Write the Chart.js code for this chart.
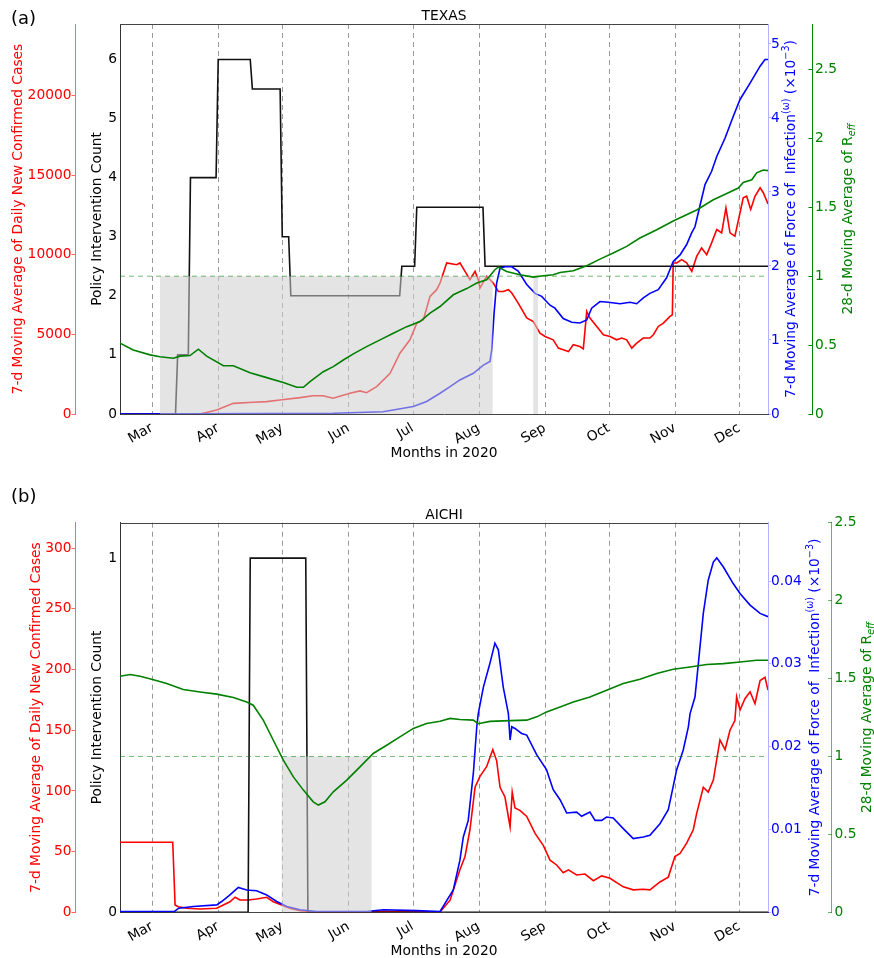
<!DOCTYPE html>
<html>
<head>
<meta charset="utf-8">
<script src="https://cdn.jsdelivr.net/npm/chart.js@4.4.1/dist/chart.umd.min.js"></script>
<style>
  body { margin: 0; background: #fff; }
  #wrap { position: relative; width: 874px; height: 958px; }
  canvas { position: absolute; left: 0; }
</style>
</head>
<body>
<div id="wrap">
  <canvas id="texas" width="874" height="470" style="top:0"></canvas>
  <canvas id="aichi" width="874" height="488" style="top:470px"></canvas>
</div>
<script>
// x values are days of 2020 (Jan 1 = 0)
const monthDays = [60, 91, 121, 152, 182, 213, 244, 274, 305, 335];
const monthLabels = ['Mar', 'Apr', 'May', 'Jun', 'Jul', 'Aug', 'Sep', 'Oct', 'Nov', 'Dec'];
const firstDay = 45, lastDay = 348.5;
const reffThreshold = 1;

// ---- TEXAS ----
const txCasesDay = [45, 82.5, 90.3, 98.1, 107.4, 113.7, 119.9, 129.3, 135.5, 140.1, 144.8, 152.7, 157.4, 160.5, 165.2, 171.5, 176.1, 180.8, 184.0, 187.1, 190.2, 193.3, 194.9, 198.0, 202.7, 204.2, 206.6, 208.9, 211.3, 212.8, 213.6, 216.7, 219.8, 222.2, 224.5, 226.9, 228.5, 231.5, 235.5, 238.6, 241.7, 244.1, 247.9, 250.3, 252.6, 255.0, 257.3, 260.4, 262.0, 263.6, 265.1, 268.3, 271.4, 274.5, 277.6, 280.0, 282.3, 284.7, 287.0, 290.1, 293.2, 294.8, 297.1, 299.5, 302.6, 303.7, 304.1, 305.7, 308.1, 310.4, 312.8, 315.1, 317.4, 319.8, 322.1, 324.5, 326.8, 328.8, 330.7, 333.0, 335.4, 336.9, 338.5, 340.4, 342.4, 344.8, 346.3, 348.5];
const txCasesVal = [0, 0, 250, 670, 735, 775, 880, 1030, 1150, 1150, 990, 1300, 1450, 1340, 1720, 2560, 3820, 4660, 5710, 5920, 7390, 7810, 8230, 9490, 9380, 9490, 8960, 8440, 8960, 8440, 7910, 8650, 8230, 7700, 7700, 7810, 7600, 6970, 6030, 5810, 5080, 4870, 4660, 4140, 4030, 3920, 4350, 4240, 4090, 6440, 6030, 5500, 4980, 4870, 4660, 4770, 4660, 4140, 4450, 4770, 4770, 4980, 5500, 5710, 6130, 6230, 9490, 9490, 9700, 9490, 8960, 9900, 10430, 10010, 10750, 11590, 11380, 12950, 11380, 11170, 12640, 13580, 13680, 12850, 13680, 14210, 13900, 13200];

const txForceDay = [45, 144.8, 168.2, 182.4, 188.6, 194.9, 199.6, 204.2, 210.5, 215.2, 218.3, 219.1, 220.2, 221.4, 223.0, 225.3, 228.5, 231.5, 235.5, 239.4, 242.5, 246.4, 248.7, 252.6, 256.6, 260.4, 263.6, 265.9, 269.8, 273.7, 279.2, 283.9, 287.0, 290.1, 293.2, 297.1, 301.0, 304.1, 307.3, 310.4, 312.8, 314.3, 316.6, 319.0, 322.1, 324.5, 328.4, 332.2, 335.4, 340.1, 344.8, 347.1, 348.5];
const txForceVal = [0, 0.01, 0.03, 0.1, 0.17, 0.28, 0.37, 0.46, 0.55, 0.66, 0.71, 0.87, 1.36, 1.77, 1.97, 1.99, 1.99, 1.93, 1.75, 1.63, 1.59, 1.47, 1.43, 1.29, 1.24, 1.23, 1.27, 1.43, 1.52, 1.51, 1.49, 1.51, 1.49, 1.57, 1.63, 1.68, 1.84, 2.06, 2.15, 2.29, 2.45, 2.53, 2.81, 3.10, 3.28, 3.48, 3.73, 4.02, 4.25, 4.47, 4.70, 4.79, 4.79];

const txReffDay = [45, 51.2, 59.1, 63.7, 70.0, 73.1, 77.8, 81.7, 85.6, 93.4, 98.1, 105.9, 113.7, 121.5, 127.8, 130.9, 134.0, 140.2, 144.9, 149.6, 154.3, 160.5, 166.8, 173.0, 179.3, 185.5, 190.2, 194.9, 201.1, 207.4, 212.1, 216.7, 220.6, 222.2, 226.1, 232.3, 238.6, 243.3, 247.9, 251.1, 257.3, 263.6, 269.8, 276.0, 282.3, 288.5, 296.4, 304.1, 315.1, 322.9, 329.2, 334.6, 336.9, 340.9, 343.2, 346.3, 348.5];
const txReffVal = [0.514, 0.465, 0.429, 0.416, 0.405, 0.42, 0.424, 0.47, 0.42, 0.35, 0.35, 0.30, 0.264, 0.228, 0.194, 0.194, 0.235, 0.307, 0.344, 0.392, 0.436, 0.489, 0.538, 0.586, 0.634, 0.671, 0.732, 0.78, 0.865, 0.91, 0.95, 0.974, 1.047, 1.066, 1.034, 1.01, 0.993, 1.003, 1.01, 1.027, 1.04, 1.076, 1.124, 1.168, 1.216, 1.277, 1.337, 1.40, 1.48, 1.555, 1.60, 1.64, 1.68, 1.70, 1.75, 1.77, 1.766];

const txPolicyStart = [45, 72, 78, 91, 107, 121, 125, 177, 184, 216];
const txPolicyLevel = [0, 1, 4, 6, 5.5, 3, 2, 2.5, 3.5, 2.5];
const txBelowOne = [[63.7, 219.6], [238.5, 240.8]];

const txCaseTicks = [0, 5000, 10000, 15000, 20000];
const txPolicyTicks = [0, 1, 2, 3, 4, 5, 6];
const txForceTicks = [0, 1, 2, 3, 4, 5];

// ---- AICHI ----
const aiCasesDay = [45, 69.7, 70.8, 72.3, 76.2, 82.5, 90.3, 93.4, 96.5, 98.9, 101.2, 105.1, 109.0, 113.7, 116.8, 120.7, 124.6, 129.3, 137.1, 160.5, 168.3, 184.0, 194.9, 199.6, 204.2, 206.6, 208.9, 211.3, 213.6, 216.7, 219.6, 221.4, 223.0, 225.3, 227.7, 228.7, 230.0, 232.3, 235.5, 239.4, 243.3, 246.4, 249.5, 252.6, 255.0, 258.9, 262.8, 266.7, 270.6, 274.5, 280.7, 285.4, 290.1, 293.2, 297.9, 301.8, 304.9, 307.3, 310.4, 313.5, 315.1, 318.2, 320.5, 322.9, 326.0, 328.4, 330.7, 333.0, 333.8, 335.4, 337.7, 340.1, 342.4, 344.8, 347.1, 348.5];
const aiCasesVal = [57.7, 57.7, 6, 4.6, 3.3, 2.7, 3.3, 6, 8.7, 12.4, 10.1, 10.1, 11, 12.4, 8.7, 6, 3.3, 1.3, 0.2, 0.3, 0.8, 0.6, 0.3, 10, 35, 46, 68, 103, 112, 120, 134, 125, 103, 95, 70.5, 99, 86, 84, 79, 65, 55, 43, 39, 32.6, 35, 30.7, 31.5, 26, 30, 28, 21, 18.5, 19, 18.5, 25, 29, 46, 48.6, 57, 68, 81.5, 103, 99, 109, 142, 134, 150, 158, 177.6, 166.6, 176, 181.7, 172, 191, 193.6, 183];

const aiForceDay = [45, 70.5, 72.5, 79.3, 90.3, 92.6, 96.5, 100.4, 104.3, 109.0, 113.7, 118.4, 123.1, 129.3, 137.1, 160.5, 168.3, 184.0, 194.9, 201.1, 204.2, 205.8, 208.1, 210.5, 212.1, 212.8, 215.2, 218.3, 220.6, 222.2, 224.5, 226.9, 227.7, 228.5, 230.0, 233.1, 235.5, 240.2, 244.8, 247.9, 251.1, 254.2, 258.9, 261.2, 265.1, 267.5, 270.6, 272.9, 276.0, 280.7, 285.4, 290.1, 293.2, 297.9, 301.8, 304.1, 305.7, 308.8, 311.2, 312.0, 314.3, 315.9, 318.2, 320.5, 322.9, 324.5, 327.6, 332.2, 335.4, 340.1, 344.8, 348.5];
const aiForceVal = [0.0001, 0.0001, 0.0005, 0.0007, 0.0009, 0.0013, 0.0021, 0.0030, 0.0027, 0.0026, 0.0021, 0.0013, 0.0007, 0.0003, 0.0001, 0.0001, 0.0003, 0.0002, 0.0001, 0.0027, 0.0063, 0.0091, 0.0111, 0.0168, 0.0224, 0.024, 0.0272, 0.0301, 0.0325, 0.0317, 0.0272, 0.024, 0.0208, 0.0224, 0.0222, 0.0216, 0.0214, 0.019, 0.0172, 0.0148, 0.0136, 0.012, 0.0121, 0.0116, 0.0121, 0.0111, 0.0111, 0.0115, 0.0114, 0.0101, 0.0089, 0.0091, 0.0093, 0.0107, 0.0124, 0.0152, 0.0172, 0.0196, 0.0224, 0.024, 0.026, 0.0301, 0.0361, 0.0401, 0.0423, 0.0428, 0.0417, 0.0397, 0.0385, 0.0371, 0.0361, 0.0357];

const aiReffDay = [45, 49.7, 54.4, 59.8, 66.9, 74.6, 82.5, 90.3, 98.1, 104.3, 107.4, 112.1, 116.8, 121.5, 126.2, 130.9, 135.5, 137.9, 141.0, 144.9, 151.2, 157.4, 163.6, 169.9, 176.1, 182.4, 188.6, 194.9, 199.6, 204.2, 210.5, 212.7, 218.3, 227.7, 235.5, 240.2, 244.8, 251.1, 257.3, 265.1, 272.9, 280.7, 288.5, 296.4, 304.1, 312.0, 319.8, 327.6, 335.4, 343.2, 348.5];
const aiReffVal = [1.515, 1.526, 1.515, 1.496, 1.468, 1.43, 1.414, 1.40, 1.378, 1.35, 1.329, 1.233, 1.104, 0.976, 0.869, 0.784, 0.709, 0.688, 0.709, 0.773, 0.848, 0.933, 1.019, 1.072, 1.126, 1.18, 1.212, 1.226, 1.244, 1.237, 1.233, 1.21, 1.225, 1.23, 1.233, 1.254, 1.286, 1.318, 1.35, 1.382, 1.425, 1.468, 1.496, 1.532, 1.56, 1.574, 1.59, 1.596, 1.606, 1.617, 1.617];

const aiPolicyStart = [45, 106, 133];
const aiPolicyLevel = [0, 1, 0];
const aiBelowOne = [[120.6, 162.9]];

const aiCaseTicks = [0, 50, 100, 150, 200, 250, 300];
const aiPolicyTicks = [0, 1];
const aiForceTicks = [0, 0.01, 0.02, 0.03, 0.04];
const reffTicks = [0, 0.5, 1, 1.5, 2, 2.5];

// ---------------------------------------------------------------
const FAMILY = '"DejaVu Sans"';
const FS = 13.8;
const RED = '#ff0000', BLUE = '#0000ff', GREEN = '#008000', BLACK = '#111111';
Chart.defaults.font.family = 'DejaVu Sans';
Chart.defaults.font.size = FS;
Chart.defaults.animation = false;

function pts(days, vals) {
  const n = Math.min(days.length, vals.length);
  const out = [];
  for (let i = 0; i < n; i++) out.push({ x: days[i], y: vals[i] });
  return out;
}
function steps(starts, levels, end) {
  const out = [];
  starts.forEach((s, i) => {
    const until = i + 1 < starts.length ? starts[i + 1] - 1 : end;
    out.push({ x: s, y: levels[i] }, { x: until, y: levels[i] });
  });
  return out;
}
function line(data, color, axis, order) {
  return { data, borderColor: color, borderWidth: 1.6, pointRadius: 0, tension: 0,
           fill: false, yAxisID: axis, order };
}

function yAxis(pos, weight, max, ticks, color, spine, width, tickLen, pad) {
  return {
    type: 'linear', position: pos, weight, min: 0, max,
    afterBuildTicks: s => { s.ticks = ticks.map(v => ({ value: v })); },
    afterFit: s => { s.width = width; },
    ticks: { color, padding: pad, font: { size: FS }, callback: v => String(v) },
    grid: { display: tickLen !== 0, drawOnChartArea: false, drawTicks: true, tickLength: tickLen, color: spine },
    border: { display: true, color: spine, width: 1 }
  };
}

function vtext(ctx, cx, cy, pieces, color) {
  ctx.save();
  ctx.translate(cx, cy);
  ctx.rotate(-Math.PI / 2);
  ctx.fillStyle = color;
  ctx.textBaseline = 'alphabetic';
  ctx.textAlign = 'left';
  let total = 0;
  pieces.forEach(p => {
    ctx.font = (p.style || '') + ' ' + (p.size || FS) + 'px ' + FAMILY;
    p.w = ctx.measureText(p.t).width;
    total += p.w;
  });
  let x = -total / 2;
  const base = 0.36 * FS;
  pieces.forEach(p => {
    ctx.font = (p.style || '') + ' ' + (p.size || FS) + 'px ' + FAMILY;
    ctx.fillText(p.t, x, base - (p.shift || 0));
    x += p.w;
  });
  ctx.restore();
}

function decor(o) {
  return {
    id: 'decor',
    beforeDatasetsDraw(chart) {
      const { ctx, chartArea: a, scales: { x } } = chart;
      ctx.save();
      ctx.strokeStyle = '#9a9a9a';
      ctx.lineWidth = 1;
      ctx.setLineDash([5, 4]);
      monthDays.forEach(d => {
        const px = Math.round(x.getPixelForValue(d)) + 0.5;
        ctx.beginPath(); ctx.moveTo(px, a.top); ctx.lineTo(px, a.bottom); ctx.stroke();
      });
      ctx.restore();
    },
    afterDraw(chart) {
      const { ctx, chartArea: a } = chart;
      const cx = (a.left + a.right) / 2, cy = (a.top + a.bottom) / 2;
      ctx.save();
      ctx.strokeStyle = '#444'; ctx.lineWidth = 1;
      const ty = Math.round(a.top) + 0.5;
      ctx.beginPath(); ctx.moveTo(a.left, ty); ctx.lineTo(a.right, ty); ctx.stroke();
      ctx.fillStyle = '#000';
      ctx.textBaseline = 'middle';
      ctx.textAlign = 'left';
      ctx.font = '18px ' + FAMILY;
      ctx.fillText(o.tag, 11, o.tagY);
      ctx.textAlign = 'center';
      ctx.font = FS + 'px ' + FAMILY;
      ctx.fillText(o.name, cx, a.top - 7.5);
      ctx.fillText('Months in 2020', cx, a.bottom + 39);
      ctx.restore();
      vtext(ctx, o.tx.cases, cy, [{ t: '7-d Moving Average of Daily New Confirmed Cases' }], RED);
      vtext(ctx, o.tx.policy, cy, [{ t: 'Policy Intervention Count' }], '#000');
      vtext(ctx, o.tx.force, cy, [
        { t: '7-d Moving Average of Force of  Infection' },
        { t: '(\u03c9)', size: 9.6, shift: 6 },
        { t: ' (\u00d710' },
        { t: '\u22123', size: 9.6, shift: 6 },
        { t: ')' }
      ], BLUE);
      vtext(ctx, o.tx.reff, cy, [
        { t: '28-d Moving Average of R' },
        { t: 'eff', size: 9.6, shift: -3, style: 'italic' }
      ], GREEN);
    }
  };
}

function build(id, s) {
  const datasets = [
    line(pts(s.casesDay, s.casesVal), RED, 'yC', 6),
    line(steps(s.policyStart, s.policyLevel, lastDay), BLACK, 'yP', 5),
    line(pts(s.forceDay, s.forceVal), BLUE, 'yF', 4)
  ];
  s.below.forEach(([a, b]) => {
    datasets.push({
      data: [{ x: a, y: reffThreshold }, { x: b, y: reffThreshold }],
      borderColor: 'rgba(0,0,0,0)', borderWidth: 0, pointRadius: 0,
      backgroundColor: 'rgba(205,205,205,0.55)', fill: 'origin', yAxisID: 'yR', order: 3
    });
  });
  datasets.push({
    data: [{ x: firstDay, y: reffThreshold }, { x: lastDay, y: reffThreshold }],
    borderColor: 'rgba(0,128,0,0.55)', borderWidth: 1, borderDash: [5, 4],
    pointRadius: 0, fill: false, yAxisID: 'yR', order: 2
  });
  datasets.push(line(pts(s.reffDay, s.reffVal), GREEN, 'yR', 1));

  new Chart(document.getElementById(id), {
    type: 'line',
    data: { datasets },
    options: {
      responsive: false,
      animation: false,
      devicePixelRatio: 1,
      layout: { padding: { top: s.top, left: 0, right: 0, bottom: 0 } },
      plugins: { legend: { display: false }, tooltip: { enabled: false } },
      scales: {
        x: {
          type: 'linear', position: 'bottom', min: firstDay, max: lastDay,
          afterBuildTicks: sc => { sc.ticks = monthDays.map(v => ({ value: v })); },
          afterFit: sc => { sc.height = s.xH; },
          ticks: { autoSkip: false, minRotation: 30, maxRotation: 30, padding: -2, color: '#000',
                   font: { size: FS }, callback: (v, i) => monthLabels[i] },
          grid: { display: false },
          border: { display: true, color: '#444', width: 1 }
        },
        yC: yAxis('left', 2, s.caseMax, s.caseTicks, RED, 'rgba(255,0,0,0.6)', 75, 3.5, 0),
        yP: yAxis('left', 1, s.policyMax, s.policyTicks, '#000', '#333', 45, 0, 3),
        yF: yAxis('right', 1, s.forceMax, s.forceTicks, BLUE, 'rgba(0,0,255,0.3)', s.forceW, 3, 0),
        yR: yAxis('right', 2, s.reffMax, reffTicks, GREEN, s.reffSpine, 106 - s.forceW, -3.5, 6.5)
      }
    },
    plugins: [decor(s)]
  });
}

build('texas', {
  casesDay: txCasesDay, casesVal: txCasesVal,
  forceDay: txForceDay, forceVal: txForceVal,
  reffDay: txReffDay, reffVal: txReffVal,
  policyStart: txPolicyStart, policyLevel: txPolicyLevel, below: txBelowOne,
  caseMax: 24500, policyMax: 6.6, forceMax: 5.27, reffMax: 2.83,
  caseTicks: txCaseTicks, policyTicks: txPolicyTicks, forceTicks: txForceTicks,
  top: 24, xH: 56, forceW: 44, reffSpine: GREEN,
  tag: '(a)', tagY: 19, name: 'TEXAS',
  tx: { cases: 17, policy: 96.5, force: 790, reff: 847 }
});

build('aichi', {
  casesDay: aiCasesDay, casesVal: aiCasesVal,
  forceDay: aiForceDay, forceVal: aiForceVal,
  reffDay: aiReffDay, reffVal: aiReffVal,
  policyStart: aiPolicyStart, policyLevel: aiPolicyLevel, below: aiBelowOne,
  caseMax: 321, policyMax: 1.1, forceMax: 0.04705, reffMax: 2.5,
  caseTicks: aiCaseTicks, policyTicks: aiPolicyTicks, forceTicks: aiForceTicks,
  top: 52.7, xH: 45.7, forceW: 63.5, reffSpine: 'rgba(0,128,0,0.6)',
  tag: '(b)', tagY: 27, name: 'AICHI',
  tx: { cases: 35, policy: 96, force: 814, reff: 866 }
});
</script>
</body>
</html>
